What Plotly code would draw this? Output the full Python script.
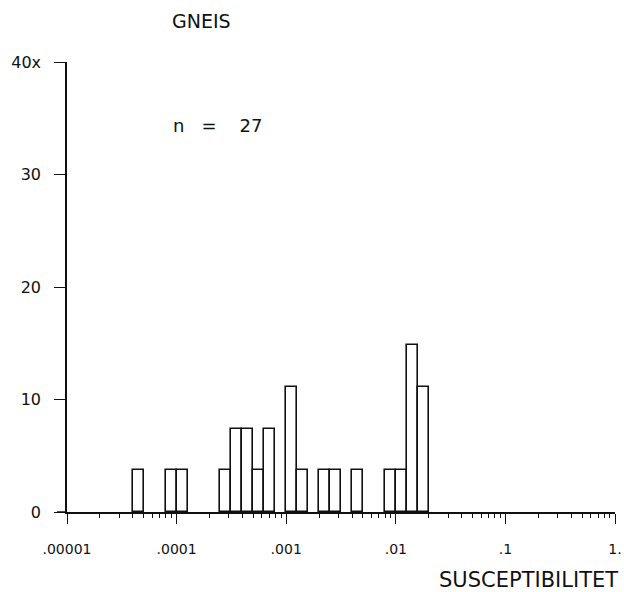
import math
import plotly.graph_objects as go

# log10 of lower bin edge, bin width 0.1 decade
bin_lower_log10 = [-4.4, -4.1, -4.0, -3.6, -3.5, -3.4, -3.3, -3.2, -3.0, -2.9,
                   -2.7, -2.6, -2.4, -2.1, -2.0, -1.9, -1.8]
bin_counts = [1, 1, 1, 1, 2, 2, 1, 2, 3, 1, 1, 1, 1, 1, 1, 4, 3]
n_samples = 27
bin_width = 0.1

x_tick_vals = [-5, -4, -3, -2, -1, 0]
x_tick_text = [".00001", ".0001", ".001", ".01", ".1", "1."]
y_tick_vals = [0, 10, 20, 30, 40]
y_tick_text = ["0", "10", "20", "30", "40x"]

centers = [v + bin_width / 2 for v in bin_lower_log10]
percent = [c / n_samples * 100 for c in bin_counts]
minor_vals = [d + math.log10(k) for d in range(-5, 0) for k in range(2, 10)]

FONT = "DejaVu Sans"
INK = "#111111"
W, H = 624, 592
ML, MR, MT, MB = 67, 9, 62, 80
PW, PH = W - ML - MR, H - MT - MB


def px(x):
    return (x - ML) / PW


def py(y):
    return (H - MB - y) / PH


fig = go.Figure()
fig.add_trace(go.Bar(
    x=centers, y=percent, width=bin_width,
    marker=dict(color="white", line=dict(color=INK, width=1.6)),
    showlegend=False, hoverinfo="skip",
))

fig.update_layout(
    width=W, height=H,
    margin=dict(l=ML, r=MR, t=MT, b=MB, autoexpand=False),
    paper_bgcolor="white", plot_bgcolor="white",
    font=dict(family=FONT, color=INK, size=13),
    bargap=0,
    xaxis=dict(
        range=[-5, 0], showgrid=False, zeroline=False, automargin=False,
        showline=True, linecolor=INK, linewidth=1.5,
        tickmode="array", tickvals=x_tick_vals, ticktext=x_tick_text,
        ticks="outside", ticklen=10, tickwidth=1.4, tickcolor=INK,
        ticklabelstandoff=13, ticklabeloverflow="allow",
        tickfont=dict(size=14, family=FONT, color=INK),
        minor=dict(tickmode="array", tickvals=minor_vals, ticks="outside",
                   ticklen=4, tickwidth=1, tickcolor=INK, showgrid=False),
    ),
    yaxis=dict(
        range=[0, 40], showgrid=False, zeroline=False, automargin=False,
        showline=True, linecolor=INK, linewidth=1.5,
        tickmode="array", tickvals=y_tick_vals, ticktext=y_tick_text,
        ticks="outside", ticklen=11, tickwidth=1.4, tickcolor=INK,
        ticklabelstandoff=10, ticklabeloverflow="allow",
        tickfont=dict(size=16, family=FONT, color=INK),
    ),
    shapes=[
        dict(type="line", xref="paper", yref="paper",
             x0=px(57), x1=0, y0=0, y1=0,
             line=dict(color=INK, width=1.5)),
    ],
    annotations=[
        dict(text="GNEIS", x=px(170), y=py(21), xanchor="left", yanchor="middle",
             xref="paper", yref="paper", showarrow=False,
             font=dict(size=19, family=FONT, color=INK)),
        dict(text="n   =    27", x=px(171), y=py(125), xanchor="left", yanchor="middle",
             xref="paper", yref="paper", showarrow=False,
             font=dict(size=18, family=FONT, color=INK)),
        dict(text="SUSCEPTIBILITET", x=px(620), y=py(580), xanchor="right",
             yanchor="middle", xref="paper", yref="paper", showarrow=False,
             font=dict(size=21, family=FONT, color=INK)),
    ],
)

fig.write_html("out.html")
